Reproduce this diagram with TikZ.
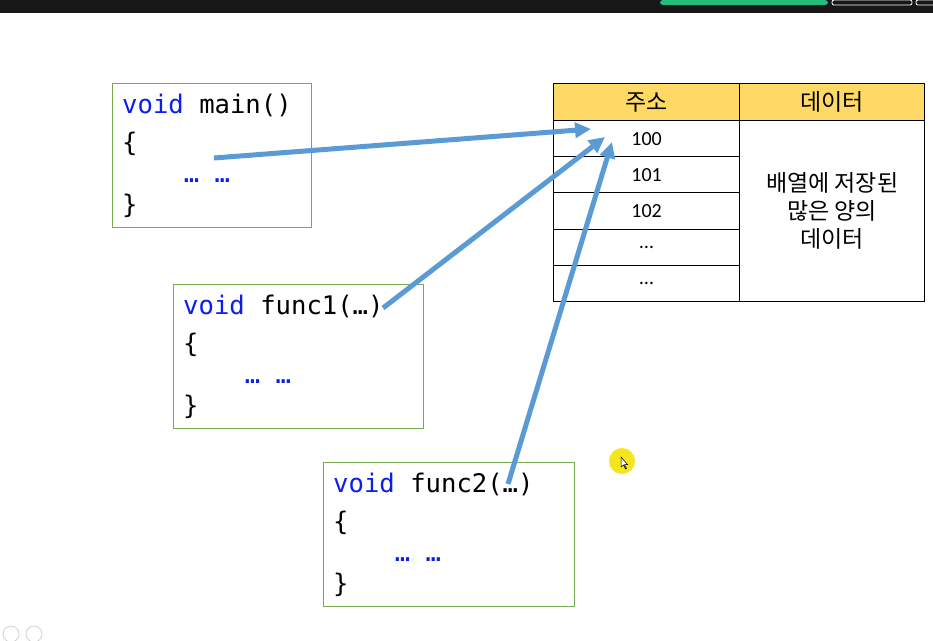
\documentclass[tikz,border=0pt]{standalone}
\usepackage{fontspec}
\setmainfont{Carlito}
\setmonofont{DejaVu Sans Mono}
\newfontfamily\kr{Noto Sans CJK KR}
\usetikzlibrary{arrows.meta}
\definecolor{codegreen}{RGB}{120,170,80}
\definecolor{hdr}{RGB}{255,217,102}
\definecolor{arr}{RGB}{91,155,213}
\definecolor{kw}{RGB}{10,30,240}
\definecolor{topbar}{RGB}{23,23,23}
\definecolor{btn}{RGB}{38,188,122}
\definecolor{cursorc}{RGB}{245,228,30}
\begin{document}
\begin{tikzpicture}[x=1pt,y=-1pt,
  codebox/.style={draw=codegreen, line width=1.2pt, inner sep=0pt, anchor=north west, minimum width=199pt, minimum height=144pt},
  codeline/.style={anchor=base west, inner sep=0pt, font=\ttfamily\fontsize{25.6}{25.6}\selectfont},
  cell/.style={draw=black, line width=1.2pt, inner sep=0pt, anchor=north west, font=\fontsize{20}{20}\selectfont},
  conn/.style={draw=arr, line width=5pt, -{Triangle[length=16pt,width=15pt]}}
]
\useasboundingbox (0,0) rectangle (933,640);
\fill[white] (0,0) rectangle (933,640);
% screen artefacts
\fill[topbar] (0,0) rectangle (933,13);
\fill[btn, rounded corners=3pt] (660,0) rectangle (828,5);
\draw[white, line width=0.8pt, rounded corners=2pt] (832,0) rectangle (912,5);
\draw[white, line width=0.8pt, rounded corners=2pt] (916,0) rectangle (940,5);
\draw[gray!35, line width=0.8pt] (11,634) circle (8);
\draw[gray!35, line width=0.8pt] (34,634) circle (8);
\fill[cursorc] (622,461) circle (13);
\draw[black, fill=white, line width=0.5pt] (621,457) -- (621,467) -- (623.5,465) -- (625.5,469) -- (626.5,468.5) -- (624.5,464.5) -- (627.5,464.5) -- cycle;

% code boxes
\node[codebox] (mainbox) at (112,83) {};
\node[codeline] (m1) at (122,113) {\textcolor{kw}{void} main()};
\node[codeline] (m2) at (122,151) {\{};
\node[codeline, text=kw] (m3) at (122,182) {\ \ \ \ …\ …};
\node[codeline] (m4) at (122,213) {\}};

\node[codebox, minimum width=250pt] (f1box) at (173,284) {};
\node[codeline] (f11) at (183,314) {\textcolor{kw}{void} func1(…)};
\node[codeline] (f12) at (183,352) {\{};
\node[codeline, text=kw] (f13) at (183,383) {\ \ \ \ …\ …};
\node[codeline] (f14) at (183,414) {\}};

\node[codebox, minimum width=251pt] (f2box) at (323,462) {};
\node[codeline] (f21) at (333,492) {\textcolor{kw}{void} func2(…)};
\node[codeline] (f22) at (333,530) {\{};
\node[codeline, text=kw] (f23) at (333,561) {\ \ \ \ …\ …};
\node[codeline] (f24) at (333,592) {\}};

% table
\node[cell, fill=hdr, minimum width=186pt, minimum height=37pt] (h1) at (553,83) {\kr\fontsize{23}{23}\selectfont 주소};
\node[cell, fill=hdr, minimum width=185pt, minimum height=37pt] (h2) at (739,83) {\kr\fontsize{23}{23}\selectfont 데이터};
\node[cell, minimum width=186pt, minimum height=36pt] (r1) at (553,120) {100};
\node[cell, minimum width=186pt, minimum height=36pt] (r2) at (553,156) {101};
\node[cell, minimum width=186pt, minimum height=37pt] (r3) at (553,192) {102};
\node[cell, minimum width=186pt, minimum height=36pt] (r4) at (553,229) {…};
\node[cell, minimum width=186pt, minimum height=36pt] (r5) at (553,265) {…};
\node[cell, minimum width=185pt, minimum height=181pt, align=center, font=\kr\fontsize{23}{28}\selectfont] (data) at (739,120) {배열에 저장된\\많은 양의\\데이터};

% arrows
\coordinate (a1s) at (214,158);
\coordinate (a1e) at (591,129);
\coordinate (a2s) at (383,308);
\coordinate (a2e) at (605,137);
\coordinate (a3s) at (508,484);
\coordinate (a3e) at (612,142);
\draw[conn] (a1s) -- (a1e);
\draw[conn] (a2s) -- (a2e);
\draw[conn] (a3s) -- (a3e);
\end{tikzpicture}
\end{document}
